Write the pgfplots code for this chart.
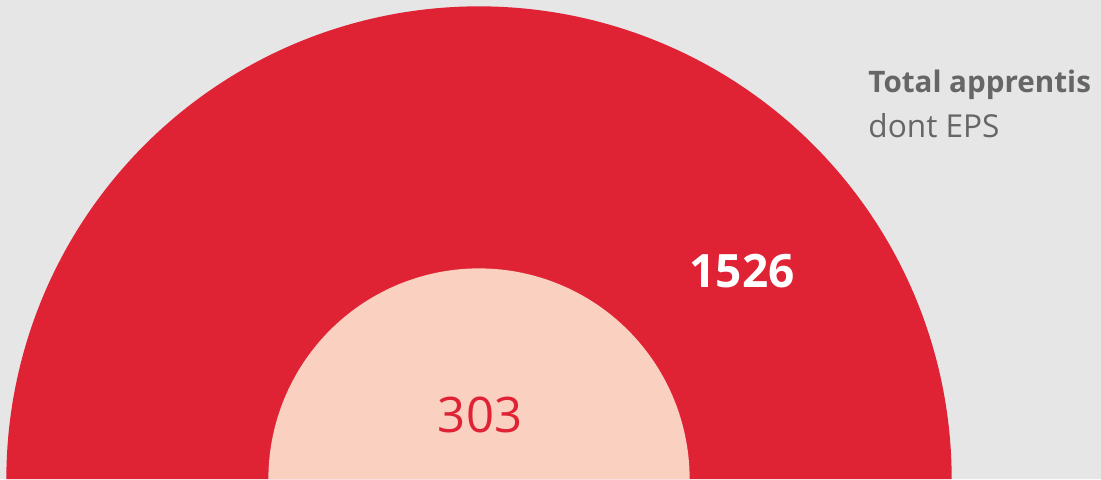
\documentclass[border=0pt]{standalone}
\usepackage{pgfplots}
\pgfplotsset{compat=1.18}
\usepackage{fontspec}
\setmainfont{Open Sans}
\definecolor{bggray}{HTML}{E6E6E6}
\definecolor{bigred}{HTML}{E02235}
\definecolor{pink}{HTML}{FAD0C0}
\definecolor{txtgray}{HTML}{666666}
\begin{document}
\begin{tikzpicture}
\begin{axis}[
  scale only axis, width=550.5pt, height=239.5pt,
  xmin=0, xmax=1101, ymin=0, ymax=479,
  hide axis, clip=true,
]
\addplot[fill=bggray, draw=none] coordinates {(0,0) (1101,0) (1101,479) (0,479)} \closedcycle;
% area-proportional half disks: radius = 12.1*sqrt(value) px
\addplot[fill=bigred, draw=none, domain=0:180, samples=181, variable=\t]
  ({479+12.1*sqrt(1526)*cos(t)},{12.1*sqrt(1526)*sin(t)}) -- cycle;
\addplot[fill=pink, draw=none, domain=0:180, samples=181, variable=\t]
  ({479+12.1*sqrt(303)*cos(t)},{12.1*sqrt(303)*sin(t)}) -- cycle;
\node[anchor=base, text=white, font=\fontsize{23}{28}\selectfont\bfseries] at (axis cs:742,192) {1526};
\node[anchor=base, text=bigred, font=\fontsize{24.5}{29}\selectfont] at (axis cs:480,47) {303};
\node[anchor=base west, inner sep=0pt, text=txtgray, font=\fontsize{14.8}{17}\selectfont\bfseries] at (axis cs:868,387) {Total apprentis};
\node[anchor=base west, inner sep=0pt, text=txtgray, font=\fontsize{15.8}{18}\selectfont] at (axis cs:868,342) {dont EPS};
\end{axis}
\end{tikzpicture}
\end{document}
